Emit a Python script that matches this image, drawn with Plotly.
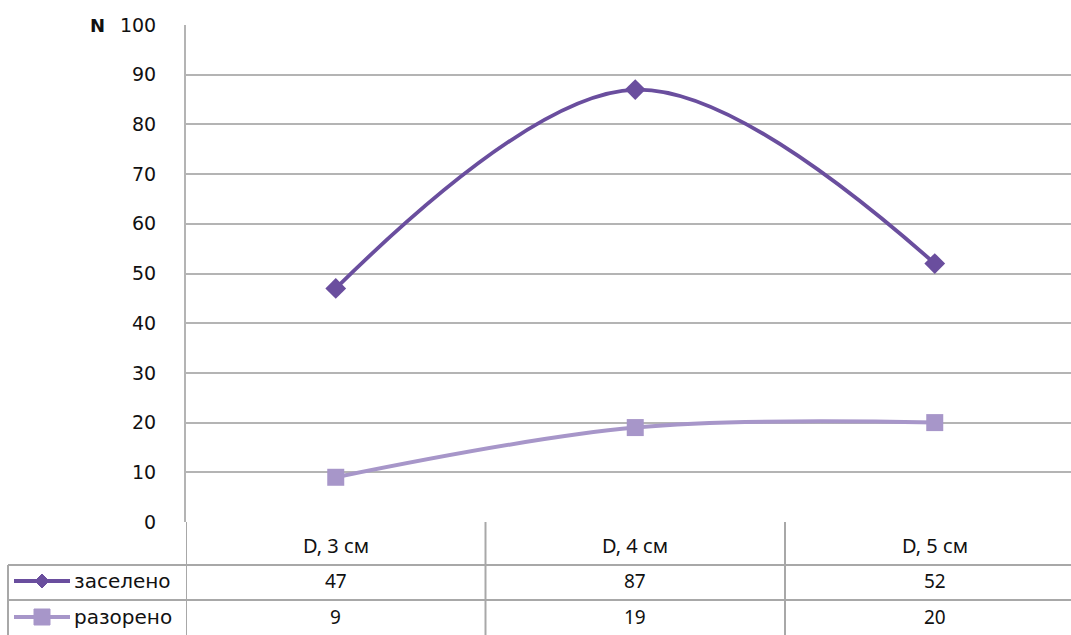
import plotly.graph_objects as go

categories = ["D, 3 см", "D, 4 см", "D, 5 см"]
series_names = ["заселено", "разорено"]
settled = [47, 87, 52]
destroyed = [9, 19, 20]
y_ticks = [0, 10, 20, 30, 40, 50, 60, 70, 80, 90, 100]

DARK = "#6A4E9E"
LIGHT = "#A796C9"
GRID = "#B4B4B4"
TABLE = "#A8A8A8"
TEXT = "#111111"

W, H = 1071, 635
L, T, B = 186, 25, 113
PW = W - L
PH = H - T - B


def px(xp):
    return (xp - L) / PW


def py(yp):
    return (H - B - yp) / PH


x_idx = list(range(len(categories)))

fig = go.Figure()
fig.add_trace(go.Scatter(
    x=x_idx, y=settled, name=series_names[0], mode="lines+markers",
    line=dict(color=DARK, width=3.8, shape="spline", smoothing=1.0),
    marker=dict(symbol="diamond", size=16, color=DARK),
    cliponaxis=False,
))
fig.add_trace(go.Scatter(
    x=x_idx, y=destroyed, name=series_names[1], mode="lines+markers",
    line=dict(color=LIGHT, width=4, shape="spline", smoothing=1.0),
    marker=dict(symbol="square", size=17, color=LIGHT),
    cliponaxis=False,
))

shapes = []
ann = []

# data table: grid lines
y_head = py(565)
y_row1 = py(600)
y_bot = py(640)
x_left = px(8)
for xb in [-0.5, 0.5, 1.5]:
    shapes.append(dict(type="line", xref="x", yref="paper", x0=xb, x1=xb,
                       y0=0, y1=y_bot, line=dict(color=TABLE, width=2)))
shapes.append(dict(type="line", xref="paper", yref="paper", x0=x_left, x1=x_left,
                   y0=y_head, y1=y_bot, line=dict(color=TABLE, width=2)))
for yb in [y_head, y_row1]:
    shapes.append(dict(type="line", xref="paper", yref="paper", x0=x_left, x1=1.0,
                       y0=yb, y1=yb, line=dict(color=TABLE, width=2)))

CELL_FONT = "Noto Sans, Open Sans, sans-serif"

# category header
for i, c in enumerate(categories):
    ann.append(dict(x=i, y=py(545), xref="x", yref="paper", text=c, showarrow=False,
                    xanchor="center", yanchor="middle",
                    font=dict(family=CELL_FONT, size=20, color=TEXT)))

# values rows
rows = [(settled, py(581)), (destroyed, py(617))]
for vals, yy in rows:
    for i, v in enumerate(vals):
        ann.append(dict(x=i, y=yy, xref="x", yref="paper", text=str(v), showarrow=False,
                        xanchor="center", yanchor="middle",
                        font=dict(family=CELL_FONT, size=19, color=TEXT)))

# legend keys inside the table
keys = [(series_names[0], DARK, "diamond", py(581)), (series_names[1], LIGHT, "square", py(617))]
for name, col, sym, yy in keys:
    shapes.append(dict(type="line", xref="paper", yref="paper", x0=px(14), x1=px(70),
                       y0=yy, y1=yy, line=dict(color=col, width=4)))
    if sym == "diamond":
        shapes.append(dict(type="path", xref="paper", yref="paper", xsizemode="pixel",
                           ysizemode="pixel", xanchor=px(42), yanchor=yy,
                           path="M -7 0 L 0 7 L 7 0 L 0 -7 Z",
                           fillcolor=col, line=dict(color=col, width=1)))
    else:
        shapes.append(dict(type="rect", xref="paper", yref="paper", xsizemode="pixel",
                           ysizemode="pixel", xanchor=px(42), yanchor=yy,
                           x0=-8, x1=8, y0=-8, y1=8,
                           fillcolor=col, line=dict(color=col, width=1)))
    ann.append(dict(x=px(72), y=yy, xref="paper", yref="paper", text=name, showarrow=False,
                    xanchor="left", yanchor="middle",
                    font=dict(family="DejaVu Sans, sans-serif", size=20, color=TEXT)))

# axis title
ann.append(dict(x=px(97), y=py(25), xref="paper", yref="paper", text="<b>N</b>", showarrow=False,
                xanchor="center", yanchor="middle",
                font=dict(family="DejaVu Sans, sans-serif", size=18, color=TEXT)))

fig.update_layout(
    width=W, height=H,
    margin=dict(l=L, r=0, t=T, b=B),
    paper_bgcolor="white", plot_bgcolor="white",
    showlegend=False,
    shapes=shapes, annotations=ann,
    xaxis=dict(range=[-0.5, -0.5 + PW / 299.5], showticklabels=False, showgrid=False,
               zeroline=False, showline=False, ticks="", fixedrange=True),
    yaxis=dict(range=[0, 100], tickvals=y_ticks, showgrid=True, gridcolor=GRID, gridwidth=1.5,
               zeroline=False, showline=True, linecolor=GRID, linewidth=2, ticks="",
               ticklabelstandoff=24,
               tickfont=dict(family="DejaVu Sans, sans-serif", size=19, color=TEXT)),
)

fig.write_html("out.html")
